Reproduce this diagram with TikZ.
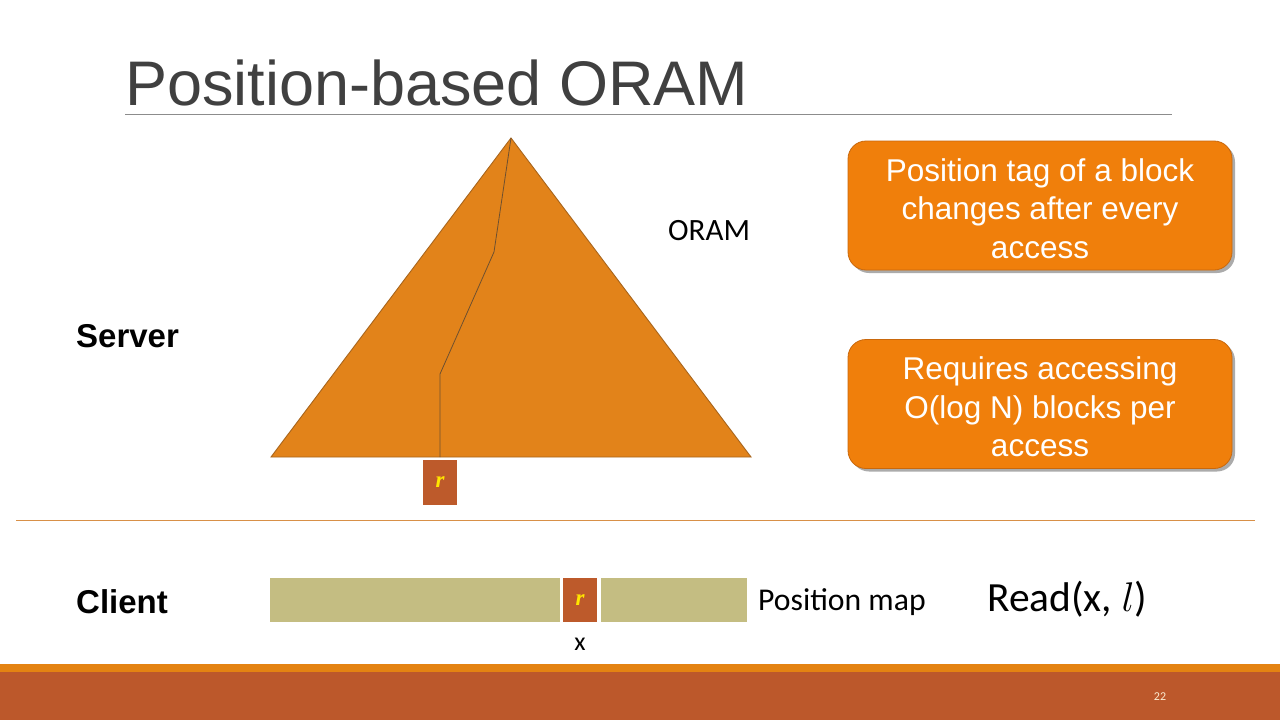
\documentclass[tikz,border=0pt]{standalone}
\usepackage{fix-cm}
\usepackage{fontspec}
\setmainfont{Liberation Sans}
\newfontfamily\calibri{Carlito}
\newfontfamily\serifrm{Liberation Serif}
\usetikzlibrary{shadows}

\definecolor{titlegrey}{HTML}{404040}
\definecolor{ulgrey}{HTML}{8C8C8C}
\definecolor{trifill}{HTML}{E2831A}
\definecolor{tridraw}{HTML}{A8651C}
\definecolor{pathcol}{HTML}{6E5030}
\definecolor{rcol}{HTML}{BD5A2B}
\definecolor{rtext}{HTML}{FFE600}
\definecolor{calloutfill}{HTML}{F07F0B}
\definecolor{calloutdraw}{HTML}{C9680C}
\definecolor{sepcol}{HTML}{D89048}
\definecolor{barcol}{HTML}{C4BD82}
\definecolor{stripecol}{HTML}{E48312}
\definecolor{bandcol}{HTML}{BC582B}
\definecolor{numcol}{HTML}{FBEBD0}

\tikzset{
  rbox/.style={fill=rcol, minimum width=34, minimum height=45, inner sep=0pt,
    text=rtext, font=\serifrm\fontsize{23}{23}\selectfont\bfseries\itshape},
  barcell/.style={fill=barcol, minimum height=44, inner sep=0pt},
  callout/.style={rounded corners=18, minimum width=384, minimum height=129,
    fill=calloutfill, draw=calloutdraw, line width=0.8pt, text=white, align=center,
    font=\fontsize{31.5}{38.5}\selectfont,
    drop shadow={shadow xshift=3pt, shadow yshift=-3pt, opacity=0.5, fill=black!65}},
  callouttext/.style={text=white, align=center, inner sep=0pt,
    font=\fontsize{31.5}{38.5}\selectfont},
  sidelabel/.style={anchor=base west, inner sep=0pt, font=\bfseries\fontsize{33}{33}\selectfont},
  caltext/.style={inner sep=0pt, font=\calibri\fontsize{31.7}{31.7}\selectfont},
}

\begin{document}
\begin{tikzpicture}[x=1pt,y=-1pt]
\useasboundingbox (0,0) rectangle (1280,720);
\fill[white] (0,0) rectangle (1280,720);

% title
\node[anchor=base west, inner sep=0pt, text=titlegrey,
  font=\fontsize{63}{63}\selectfont] (title) at (125,105) {Position-based ORAM};
\coordinate (ul1) at (125,114);
\coordinate (ul2) at (1172,114);
\draw[ulgrey, line width=1pt] (ul1) -- (ul2);

% tree
\coordinate (apex) at (511,138);
\coordinate (bl) at (271,457);
\coordinate (br) at (751,457);
\filldraw[fill=trifill, draw=tridraw, line width=0.9pt] (apex) -- (bl) -- (br) -- cycle;
\coordinate (p1) at (494,252);
\coordinate (p2) at (440,374);
\coordinate (leaf) at (440,457);
\draw[pathcol, line width=0.8pt] (apex) -- (p1) -- (p2) -- (leaf);
\node[rbox] (rtree) at (440,482.5) {r};

\node[caltext, anchor=base west, font=\calibri\fontsize{31}{31}\selectfont] (oram) at (668,240) {ORAM};
\node[sidelabel] (server) at (76,347) {Server};

% callouts
\node[callout] (c1) at (1040,205.5) {};
\node[callouttext] (t1) at ([yshift=-3pt]c1.center) {Position tag of a block\\changes after every\\access};
\node[callout] (c2) at (1040,404) {};
\node[callouttext] (t2) at ([yshift=-3pt]c2.center) {Requires accessing\\O(log N) blocks per\\access};

% separator
\coordinate (s1) at (16,520);
\coordinate (s2) at (1255,520);
\draw[sepcol, line width=1pt] (s1) -- (s2);

% client
\node[sidelabel] (client) at (76,613) {Client};
\node[barcell, minimum width=290] (pmL) at (415,600) {};
\node[rbox, minimum height=44] (rpm) at (580,600) {r};
\node[barcell, minimum width=146] (pmR) at (674,600) {};
\node[caltext, font=\calibri\fontsize{26}{26}\selectfont] (xlab) at (580,644) {x};
\node[caltext, anchor=base west] (pmap) at (758,610) {Position map};
\node[caltext, anchor=base west, font=\calibri\fontsize{41.5}{41.5}\selectfont] (read) at (987,611) {Read(x, $l$)};

% footer
\fill[stripecol] (0,664) rectangle (1280,672);
\fill[bandcol] (0,672) rectangle (1280,720);
\node[caltext, text=numcol, font=\calibri\fontsize{12}{12}\selectfont] (num) at (1160,697) {22};
\end{tikzpicture}
\end{document}
